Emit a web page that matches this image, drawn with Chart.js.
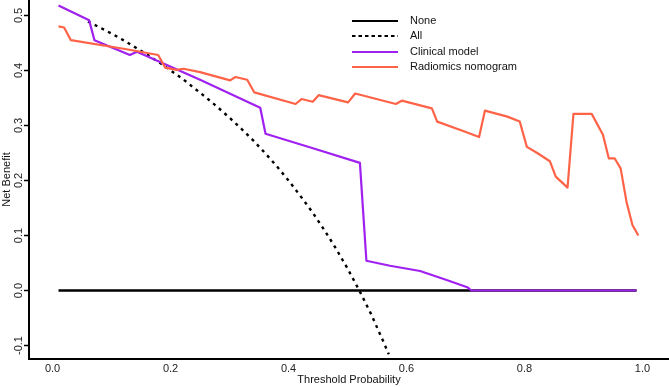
<!DOCTYPE html>
<html>
<head>
<meta charset="utf-8">
<script src="https://cdn.jsdelivr.net/npm/chart.js@4/dist/chart.umd.min.js"></script>
<style>
    body { margin: 0; background: #fff; }
    canvas { display: block; }
</style>
</head>
<body>
<canvas id="chart" width="669" height="387"></canvas>
<script>

const xTicks = [0, 0.2, 0.4, 0.6, 0.8, 1.0];
const yTicks = [-0.1, 0, 0.1, 0.2, 0.3, 0.4, 0.5];

const noneX = [0.01, 0.99];
const noneY = [0, 0];

const allX = [0.06, 0.08, 0.10, 0.12, 0.14, 0.16, 0.18, 0.20, 0.22, 0.24, 0.26, 0.28, 0.30, 0.32,
    0.34, 0.36, 0.38, 0.40, 0.42, 0.44, 0.46, 0.48, 0.50, 0.52, 0.54, 0.56, 0.57];
const allY = [0.489, 0.478, 0.467, 0.455, 0.442, 0.429, 0.415, 0.400, 0.385, 0.368, 0.351, 0.333, 0.314, 0.294,
    0.273, 0.250, 0.226, 0.200, 0.172, 0.143, 0.111, 0.077, 0.040, 0.0, -0.043, -0.091, -0.116];

const clinicalX = [0.01, 0.062, 0.071, 0.131, 0.143, 0.25, 0.352, 0.361, 0.44, 0.521, 0.532, 0.572,
    0.623, 0.668, 0.703, 0.71, 0.99];
const clinicalY = [0.518, 0.491, 0.455, 0.428, 0.434, 0.383, 0.332, 0.285, 0.259, 0.232, 0.054, 0.045,
    0.0355, 0.019, 0.006, 0, 0];

const radiomicsX = [0.01, 0.0195, 0.031, 0.123, 0.179, 0.191, 0.21, 0.222, 0.25, 0.301, 0.31, 0.33, 0.342,
    0.412, 0.422, 0.441, 0.451, 0.501, 0.513, 0.582, 0.592, 0.643, 0.652, 0.696, 0.723, 0.733, 0.771,
    0.792, 0.804, 0.823, 0.843, 0.853, 0.873, 0.883, 0.914, 0.933, 0.943, 0.953, 0.963, 0.973, 0.983, 0.993];
const radiomicsY = [0.480, 0.478, 0.455, 0.439, 0.428, 0.405, 0.401, 0.403, 0.397, 0.382, 0.388, 0.383, 0.360,
    0.339, 0.348, 0.343, 0.355, 0.342, 0.358, 0.339, 0.345, 0.331, 0.307, 0.290, 0.279, 0.327, 0.316,
    0.307, 0.261, 0.249, 0.235, 0.207, 0.187, 0.321, 0.321, 0.283, 0.240, 0.240, 0.222, 0.161, 0.119, 0.100];

const pts = (xs, ys) => xs.map((x, i) => ({ x: x, y: ys[i] }));

const font = { family: "'Liberation Sans', Arial, sans-serif", size: 11 };

// legend drawn by hand, R style, inside the plot
const legendPlugin = {
    id: "rlegend",
    afterDraw(chart) {
        const c = chart.ctx;
        const x0 = 352, x1 = 398, tx = 410;
        const rows = [21, 36, 52, 67];
        c.save();
        c.font = "11px " + font.family;
        c.textBaseline = "middle";
        c.fillStyle = "#111";
        chart.data.datasets.forEach((ds, i) => {
            const y = rows[i];
            c.beginPath();
            c.strokeStyle = ds.borderColor;
            c.lineWidth = 2;
            c.setLineDash(ds.legendDash || []);
            c.moveTo(x0, y);
            c.lineTo(x1, y);
            c.stroke();
            c.setLineDash([]);
            c.fillText(ds.label, tx, y);
        });
        c.restore();
    }
};

const ctx = document.getElementById("chart");

const chart = new Chart(ctx, {

    type: "line",

    data: {
        datasets: [
            {
                label: "None",
                data: pts(noneX, noneY),
                borderColor: "#000000",
                borderWidth: 2.6,
                order: 4
            },
            {
                label: "All",
                data: pts(allX, allY),
                borderColor: "#000000",
                borderWidth: 2.4,
                borderDash: [3, 4.5],
                legendDash: [3.5, 3],
                order: 3
            },
            {
                label: "Clinical model",
                data: pts(clinicalX, clinicalY),
                borderColor: "#A020F0",
                borderWidth: 2.2,
                order: 2
            },
            {
                label: "Radiomics nomogram",
                data: pts(radiomicsX, radiomicsY),
                borderColor: "#FF6347",
                borderWidth: 2.2,
                order: 1
            }
        ]
    },

    options: {
        responsive: false,
        animation: false,
        devicePixelRatio: 1,
        layout: { padding: 0 },
        elements: {
            point: { radius: 0 },
            line: { tension: 0, borderJoinStyle: "round" }
        },
        plugins: {
            legend: { display: false },
            tooltip: { enabled: false }
        },
        scales: {
            x: {
                type: "linear",
                min: -0.04,
                max: 1.045,
                afterBuildTicks: s => { s.ticks = xTicks.map(v => ({ value: v })); },
                afterFit: s => {
                    s.height = 28;
                    s.paddingLeft = 0;
                    s.paddingRight = 0;
                },
                grid: { display: true, drawOnChartArea: false, drawTicks: false },
                border: { display: true, color: "#000", width: 2 },
                ticks: {
                    font: font,
                    color: "#222",
                    padding: 3,
                    maxRotation: 0,
                    autoSkip: false,
                    callback: v => v.toFixed(1)
                },
                title: {
                    display: true,
                    text: "Threshold Probability",
                    font: font,
                    color: "#111",
                    padding: { top: 0, bottom: 0 }
                }
            },
            y: {
                type: "linear",
                min: -0.1245,
                max: 0.528,
                afterBuildTicks: s => { s.ticks = yTicks.map(v => ({ value: v })); },
                afterFit: s => {
                    s.width = 29;
                    s.paddingTop = 0;
                    s.paddingBottom = 0;
                },
                grid: { display: true, drawOnChartArea: false, drawTicks: true, tickLength: 5, color: "#000", tickWidth: 1.5 },
                border: { display: true, color: "#000", width: 2 },
                ticks: {
                    font: font,
                    color: "#222",
                    padding: -4,
                    minRotation: 90,
                    maxRotation: 90,
                    crossAlign: "center",
                    autoSkip: false,
                    callback: v => v.toFixed(1)
                },
                title: {
                    display: true,
                    text: "Net Benefit",
                    font: font,
                    color: "#111",
                    padding: { top: 0, bottom: 0 }
                }
            }
        }
    },

    plugins: [legendPlugin]

});

</script>
</body>
</html>
